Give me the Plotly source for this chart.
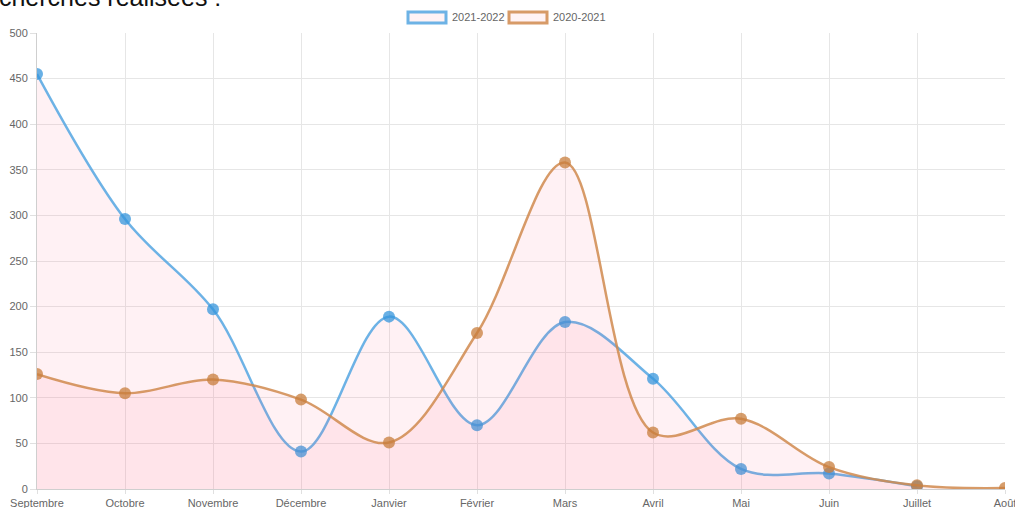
import plotly.graph_objects as go

months = ["Septembre", "Octobre", "Novembre", "Décembre", "Janvier", "Février",
          "Mars", "Avril", "Mai", "Juin", "Juillet", "Août"]
s2122 = [455, 296, 197, 41, 189, 70, 183, 121, 22, 17, 3, None]
s2021 = [126, 105, 120, 98, 51, 171, 358, 62, 77, 24, 4, 1]
series_names = ["2021-2022", "2020-2021"]

blue = "rgba(84,166,226,0.85)"
blue_pt = "rgba(54,150,220,0.75)"
orange = "rgba(208,138,78,0.85)"
orange_pt = "rgba(200,125,60,0.75)"
pink = "rgba(255,99,132,0.09)"

W, H = 1015, 508
ML, MR, MT, MB = 37, 10, 33, 19
PW, PH = W - ML - MR, H - MT - MB

def px_x(x):
    return (x - ML) / PW

def px_y(y):
    return (H - MB - y) / PH

fig = go.Figure()
for name, vals, lc, pc in [(series_names[0], s2122, blue, blue_pt),
                           (series_names[1], s2021, orange, orange_pt)]:
    fig.add_trace(go.Scatter(
        x=months, y=vals, mode="lines+markers", name=name, showlegend=False,
        line=dict(color=lc, width=2.5, shape="spline", smoothing=1.0),
        marker=dict(color=pc, size=12, line=dict(width=0)),
        fill="tozeroy", fillcolor=pink, connectgaps=False, cliponaxis=True,
        hoverinfo="x+y"))

shapes = []
annotations = []
# manual legend
legend_items = [(series_names[0], blue, 408), (series_names[1], orange, 509)]
for name, col, x0 in legend_items:
    shapes.append(dict(type="rect", xref="paper", yref="paper",
                       x0=px_x(x0), x1=px_x(x0 + 38), y0=px_y(23), y1=px_y(12),
                       line=dict(color=col, width=3), fillcolor="rgba(255,99,132,0.08)"))
    annotations.append(dict(text=name, xref="paper", yref="paper",
                            x=px_x(x0 + 42), y=px_y(17.5), xanchor="left", yanchor="middle",
                            showarrow=False, font=dict(size=11, color="#666")))

annotations.append(dict(text="Recherches réalisées :", xref="paper", yref="paper",
                        x=px_x(223), y=1, xanchor="right", yanchor="bottom", showarrow=False,
                        font=dict(size=25, color="#111", family="Liberation Sans, Arial"),
                        yshift=20))

fig.update_layout(
    width=W, height=H,
    margin=dict(l=ML, r=MR, t=MT, b=MB, autoexpand=False),
    paper_bgcolor="white", plot_bgcolor="white",
    font=dict(family="Liberation Sans, Arial, sans-serif", size=11, color="#666"),
    showlegend=False,
    xaxis=dict(type="category", range=[0, 11], showgrid=True, gridcolor="#e6e6e6",
               showline=True, linecolor="#cfcfcf", linewidth=1, ticks="outside",
               ticklen=4, tickcolor="#e0e0e0", zeroline=False, automargin=False,
               tickfont=dict(size=11)),
    yaxis=dict(range=[0, 500], dtick=50, showgrid=True, gridcolor="#e6e6e6",
               showline=True, linecolor="#cfcfcf", linewidth=1, ticks="outside",
               ticklen=6, tickcolor="#e0e0e0", zeroline=False, automargin=False,
               tickfont=dict(size=11)),
    shapes=shapes,
    annotations=annotations,
)

fig.write_html("out.html", config={"displayModeBar": False},
               post_script="document.body.style.margin='0px';document.body.style.overflow='hidden';")
